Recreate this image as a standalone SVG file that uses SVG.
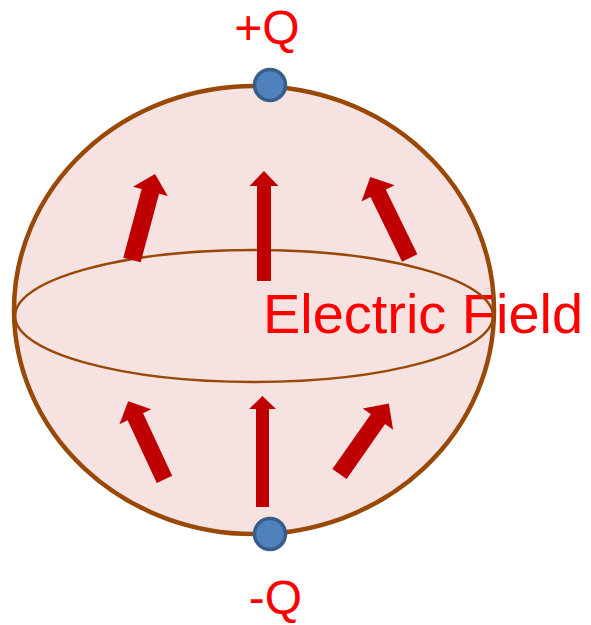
<svg xmlns="http://www.w3.org/2000/svg" width="591" height="625" viewBox="0 0 591 625">
  <style>
    .lbl { font-family: "Liberation Sans", Arial, sans-serif; fill: #ff0000; }
    .arrow { fill: #c00000; }
    .node { fill: #4f81bd; stroke: #385d8a; stroke-width: 3.5; }
    .brown { fill: none; stroke: #984807; }
  </style>
  <rect width="591" height="625" fill="#ffffff"/>
  <g id="sphere">
    <ellipse cx="254" cy="310" rx="240" ry="224" fill="#f7e2e2"/>
  </g>
  <g id="label-field">
    <text class="lbl" x="263" y="333" font-size="56" textLength="320" lengthAdjust="spacingAndGlyphs">Electric Field</text>
  </g>
  <g id="equator">
    <ellipse class="brown" cx="254" cy="316" rx="239" ry="66" stroke-width="2.5"/>
  </g>
  <g id="connectors">
    <polygon class="arrow" transform="translate(264,281)" points="-7,0 -7,-95 -14.5,-95 0,-110 14.5,-95 7,-95 7,0"/>
    <polygon class="arrow" transform="translate(262.5,507)" points="-6.5,0 -6.5,-98 -13.5,-98 0,-111 13.5,-98 6.5,-98 6.5,0"/>
    <polygon class="arrow" transform="translate(132,260) rotate(15)" points="-9,0 -9,-71 -18,-71 0,-89 18,-71 9,-71 9,0"/>
    <polygon class="arrow" transform="translate(409.7,258) rotate(-26)" points="-8.5,0 -8.5,-72 -18.5,-72 0,-90 18.5,-72 8.5,-72 8.5,0"/>
    <polygon class="arrow" transform="translate(164.5,479.3) rotate(-25)" points="-8.5,0 -8.5,-69 -17.5,-69 0,-86 17.5,-69 8.5,-69 8.5,0"/>
    <polygon class="arrow" transform="translate(339.5,474) rotate(35)" points="-8.7,0 -8.7,-67 -18.5,-67 0,-86 18.5,-67 8.7,-67 8.7,0"/>
  </g>
  <g id="sphere-outline">
    <ellipse class="brown" cx="254" cy="310" rx="240" ry="224" stroke-width="4.5"/>
  </g>
  <g id="node-plus">
    <circle class="node" cx="270" cy="85" r="15.5"/>
    <text class="lbl" x="267" y="44" font-size="48" text-anchor="middle">+Q</text>
  </g>
  <g id="node-minus">
    <circle class="node" cx="270" cy="534" r="15.5"/>
    <text class="lbl" x="275.5" y="614" font-size="48" text-anchor="middle">-Q</text>
  </g>
</svg>
